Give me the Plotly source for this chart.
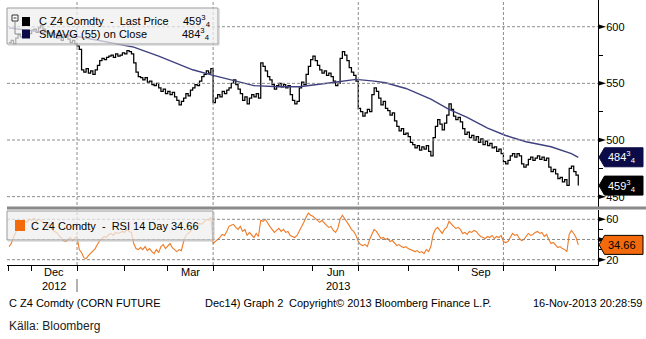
from fractions import Fraction

import pandas as pd
import plotly.graph_objects as go

# ---------------------------------------------------------------- canvas
W, H = 646, 339
ML, MR, MT, MB = 7, 48, 0, 74
PW, PH = W - ML - MR, H - MT - MB


def px_x(px):
    return (px - ML) / PW


def px_y(py):
    return (H - MB - py) / PH


FONT = "Liberation Sans, Arial, sans-serif"

# ---------------------------------------------------------------- data
# CBOT trading days, 16-Nov-2012 .. 15-Nov-2013 (exchange holidays removed)
holidays = ["2012-11-22", "2012-12-25", "2013-01-01", "2013-01-21", "2013-02-18",
            "2013-03-29", "2013-05-27", "2013-07-04", "2013-09-02"]
dates = pd.bdate_range("2012-11-16", "2013-11-15")
dates = dates[~dates.isin(pd.to_datetime(holidays))]

# C Z4 Comdty (Dec14 corn), last price, US cents/bu
close = [
    586, 588, 585, 590, 593, 591, 594, 592, 596, 594,
    597, 598, 595, 599, 601, 598, 596, 594, 592, 595,
    593, 590, 591, 588, 591, 593, 589, 586, 588, 585,
    583, 580, 562, 560, 563, 559, 561, 558, 562, 566,
    570, 572, 571, 573, 574, 575, 573, 576, 574, 575,
    577, 576, 579, 578, 576, 568, 560, 556, 555, 553,
    555, 551, 552, 549, 548, 550, 546, 543, 545, 541,
    543, 540, 542, 538, 535, 531, 534, 537, 541, 539,
    544, 546, 549, 548, 552, 556, 558, 561, 559, 563,
    533, 537, 540, 538, 543, 541, 544, 546, 550, 553,
    549, 545, 541, 535, 538, 532, 537, 540, 538, 541,
    537, 568, 565, 561, 556, 553, 549, 545, 548, 550,
    547, 549, 546, 548, 540, 535, 532, 534, 546, 551,
    549, 558, 565, 571, 574, 570, 566, 562, 559, 561,
    557, 559, 556, 552, 548, 550, 572, 578, 575, 570,
    564, 560, 557, 552, 528, 525, 521, 524, 527, 525,
    540, 546, 543, 537, 531, 534, 528, 526, 522, 524,
    517, 512, 508, 510, 505, 506, 503, 498, 496, 493,
    495, 491, 494, 492, 495, 490, 486, 502, 512, 518,
    514, 509, 515, 522, 532, 527, 521, 518, 520, 516,
    510, 505, 507, 502, 504, 500, 503, 498, 501, 496,
    499, 495, 497, 493, 494, 490, 492, 488, 481, 479,
    482, 486, 488, 485, 488, 486, 479, 476, 478, 483,
    485, 482, 484, 486, 483, 485, 482, 484, 476, 472,
    474, 470, 466, 467, 463, 465, 460, 475, 477, 472,
    469, 459.75,
]

# RSI 14 day
rsi = [
    33, 36, 42, 47, 52, 50, 55, 58, 57, 60,
    59, 61, 58, 60, 59, 57, 54, 52, 55, 50,
    48, 47, 44, 41, 39, 38, 40, 42, 39, 41,
    43, 30, 27, 22, 21, 24, 26, 29, 31, 35,
    39, 41, 43, 42, 45, 46, 44, 47, 46, 47,
    48, 47, 50, 48, 47, 36, 31, 30, 32, 30,
    33, 29, 31, 28, 26, 30, 27, 33, 35, 31,
    34, 36, 32, 30, 28, 30, 29, 38, 44, 46,
    48, 52, 54, 52, 56, 55, 58, 60, 59, 62,
    36, 38, 40, 42, 45, 44, 48, 53, 54, 55,
    52, 50, 53, 48, 50, 44, 47, 44, 42, 46,
    43, 59, 58, 60, 56, 53, 50, 47, 49, 51,
    48, 50, 47, 48, 44, 43, 42, 44, 48, 52,
    57, 62, 66, 64, 63, 61, 59, 57, 59, 56,
    54, 52, 53, 49, 47, 51, 60, 64, 61, 57,
    54, 50, 48, 44, 38, 35, 34, 35, 33, 40,
    46, 50, 48, 44, 41, 42, 40, 41, 38, 39,
    36, 34, 35, 33, 32, 33, 31, 30, 29, 28,
    29, 27, 28, 26, 30, 28, 33, 45, 50, 52,
    49, 46, 50, 52, 58, 55, 53, 51, 52, 50,
    46, 47, 45, 48, 47, 49, 48, 45, 43, 42,
    41, 43, 42, 44, 41, 43, 42, 44, 38, 37,
    38, 42, 46, 44, 45, 41, 39, 40, 43, 46,
    44, 45, 47, 48, 46, 47, 43, 45, 40, 36,
    37, 34, 32, 33, 31, 30, 28, 45, 49, 46,
    42, 34.66,
]

# SMAVG (55) on Close
sma_dates = ["2012-11-16", "2012-12-11", "2013-01-03", "2013-01-18", "2013-02-07",
             "2013-02-25", "2013-03-18", "2013-04-01", "2013-04-15", "2013-04-25",
             "2013-05-10", "2013-05-23", "2013-06-13", "2013-06-28", "2013-07-11",
             "2013-07-18", "2013-07-31", "2013-08-15", "2013-08-27", "2013-09-09",
             "2013-09-20", "2013-10-02", "2013-10-15", "2013-10-30", "2013-11-12",
             "2013-11-15"]
sma = [599, 595, 591, 587, 582, 574, 562, 557, 552, 548,
       547, 547, 550.5, 553.5, 552, 550.5, 545.5, 536, 527, 520,
       510.5, 504, 498.5, 494, 488, 484.75]

price_ticks = [450, 500, 550, 600]
rsi_ticks = [20, 40, 60]
rsi_tick_text = ["20", "", "60"]          # 40 sits under the RSI badge
month_labels = {"2012-12": "Dec", "2013-03": "Mar", "2013-06": "Jun", "2013-09": "Sep"}

assert len(close) == len(dates) == len(rsi)

C_SMA, C_SMA_BADGE = "#404080", "#0b0b48"
C_RSI, C_RSI_BADGE = "#f07a26", "#f26a0c"
C_GRID = "#8c8c8c"


def fmt_frac(v):
    whole = int(v)
    fr = Fraction(v - whole).limit_denominator(8)
    if fr == 0:
        return str(whole)
    return f"{whole}<sup>{fr.numerator}</sup><sub>{fr.denominator}</sub>"


# month boundaries (first trading day of each month) and label centres
periods = dates.to_period("M")
month_starts = [dates[periods == p][0] for p in periods.unique()]
quarter_starts = [d for d in month_starts if d.month in (1, 4, 7, 10)]


def month_centre(p):
    days = dates[periods == pd.Period(p)]
    n = len(days)
    d = days[n // 2]
    return d if n % 2 == 0 else d + pd.Timedelta(hours=12)


x_lo, x_hi = pd.Timestamp("2012-11-15 03:00"), pd.Timestamp("2013-11-27 16:48")

# ---------------------------------------------------------------- traces
fig = go.Figure()
fig.add_trace(go.Scatter(x=dates, y=close, mode="lines", xaxis="x", yaxis="y",
                         line=dict(color="black", width=1.25, shape="hv"),
                         hoverinfo="skip", showlegend=False))
fig.add_trace(go.Scatter(x=pd.to_datetime(sma_dates), y=sma, mode="lines",
                         xaxis="x", yaxis="y",
                         line=dict(color=C_SMA, width=1.4),
                         hoverinfo="skip", showlegend=False))
fig.add_trace(go.Scatter(x=dates, y=rsi, mode="lines", xaxis="x", yaxis="y2",
                         line=dict(color=C_RSI, width=1.1),
                         hoverinfo="skip", showlegend=False))

# ---------------------------------------------------------------- axes
tickfont = dict(family=FONT, size=11, color="black")

fig.update_layout(
    width=W, height=H,
    margin=dict(l=ML, r=MR, t=MT, b=MB),
    paper_bgcolor="white", plot_bgcolor="white",
    showlegend=False,
    xaxis=dict(
        type="date", anchor="y2",
        range=[x_lo, x_hi],
        rangebreaks=[dict(bounds=["sat", "mon"]), dict(values=holidays)],
        tickmode="array", tickvals=month_starts,
        ticks="outside", ticklen=5, tickcolor="black", tickwidth=1,
        showticklabels=False, showgrid=False,
        showline=True, linecolor="black", linewidth=1, zeroline=False,
    ),
    yaxis=dict(
        domain=[px_y(206.5), 1], range=[441.3, 623.6], anchor="x", side="right",
        tickmode="array", tickvals=price_ticks, ticktext=[str(v) for v in price_ticks],
        ticks="outside", ticklen=5, tickcolor="rgba(0,0,0,0)",
        minor=dict(ticks="outside", ticklen=4, tickcolor="black", dtick=50, tick0=475),
        tickfont=tickfont, showgrid=False,
        showline=True, linecolor="black", linewidth=1, zeroline=False,
    ),
    yaxis2=dict(
        domain=[0, px_y(209.5)], range=[14.75, 69.7], anchor="x", side="right",
        tickmode="array", tickvals=rsi_ticks, ticktext=rsi_tick_text,
        ticks="outside", ticklen=5, tickcolor="rgba(0,0,0,0)",
        minor=dict(ticks="outside", ticklen=4, tickcolor="black", dtick=20, tick0=30),
        tickfont=tickfont, showgrid=False,
        showline=True, linecolor="black", linewidth=1, zeroline=False,
    ),
)

# ---------------------------------------------------------------- shapes
shapes = []

# dotted grid: price / RSI levels and quarter boundaries
grid_line = dict(color=C_GRID, width=1, dash="3px,2px")
for yref, vals in (("y", price_ticks), ("y2", rsi_ticks)):
    for v in vals:
        shapes.append(dict(type="line", xref="paper", yref=yref, layer="above",
                           x0=0, x1=1, y0=v, y1=v, line=grid_line))
for d in quarter_starts:
    shapes.append(dict(type="line", xref="x", yref="paper", layer="above",
                       x0=d, x1=d, y0=0, y1=1, line=grid_line))


def rect_px(x0, y0, x1, y1, fill, line_color=None, line_width=0):
    line = dict(width=line_width, color=line_color or fill)
    shapes.append(dict(type="rect", xref="paper", yref="paper", layer="above",
                       x0=px_x(x0), x1=px_x(x1), y0=px_y(y1), y1=px_y(y0),
                       fillcolor=fill, line=line))


def line_px(x0, y0, x1, y1, color, width=1):
    shapes.append(dict(type="line", xref="paper", yref="paper", layer="above",
                       x0=px_x(x0), x1=px_x(x1), y0=px_y(y0), y1=px_y(y1),
                       line=dict(color=color, width=width)))


# separator bar between the two panels
rect_px(ML, 206.5, W, 209.5, "#8a8a8a")

# arrow-shaped major ticks on the right axis
for yref, vals in (("y", price_ticks), ("y2", rsi_ticks)):
    for v in vals:
        shapes.append(dict(type="path", xref="paper", yref=yref, layer="above",
                           xsizemode="pixel", ysizemode="pixel", xanchor=1, yanchor=v,
                           path="M 0 2.5 L 8 0 L 0 -2.5 Z",
                           fillcolor="black", line=dict(width=0)))

# last-value badges on the right axis
badge_path = "M 1 0 L 6.5 9.5 L 45 9.5 L 45 -9.5 L 6.5 -9.5 Z"
for yref, v, fill, border in (("y", sma[-1], C_SMA_BADGE, C_SMA_BADGE),
                              ("y", close[-1], "black", "black"),
                              ("y2", rsi[-1], C_RSI_BADGE, "black")):
    shapes.append(dict(type="path", xref="paper", yref=yref, layer="above",
                       xsizemode="pixel", ysizemode="pixel", xanchor=1, yanchor=v,
                       path=badge_path, fillcolor=fill, line=dict(color=border, width=1)))

# price legend panel
rect_px(7, 8, 218, 44, "rgba(238,238,238,0.72)", "#9c9c9c", 1)
line_px(8, 45, 219, 45, "#c8c8c8")
line_px(219, 9, 219, 45, "#c8c8c8")
rect_px(12, 15, 18, 21, "white", "#333333", 1)
line_px(13.5, 18, 16.5, 18, "#333333")
line_px(15, 21, 15, 34, "#8a8a8a")
line_px(15, 34, 21, 34, "#8a8a8a")
rect_px(22, 17, 30, 26, "black")
rect_px(22, 29.5, 30, 38.5, C_SMA_BADGE)

# RSI legend panel
rect_px(7, 211, 213, 240, "rgba(238,238,238,0.72)", "#9c9c9c", 1)
line_px(8, 241, 214, 241, "#c8c8c8")
line_px(214, 212, 214, 241, "#c8c8c8")
rect_px(15, 220, 25, 231, C_RSI_BADGE)

# year divider under the month labels (at the first 2013 boundary)
line_px(77, 279, 77, 292, "#666666")

fig.update_layout(shapes=shapes)

# ---------------------------------------------------------------- text
ann = []


def text_px(x, y, s, anchor="left", size=11, color="black"):
    ann.append(dict(xref="paper", yref="paper", x=px_x(x), y=px_y(y), text=s,
                    xanchor=anchor, yanchor="middle", showarrow=False,
                    font=dict(family=FONT, size=size, color=color)))


nb = "\u00a0"
text_px(37, 21.5, f"C Z4 Comdty{nb}{nb}-{nb}{nb}Last Price")
text_px(213, 21.5, fmt_frac(close[-1]), "right")
text_px(37, 34, "SMAVG (55) on Close")
text_px(212, 34, fmt_frac(sma[-1]), "right")
text_px(29, 226, f"C Z4 Comdty{nb}{nb}-{nb}{nb}RSI 14 Day {rsi[-1]:.2f}")

# badge labels
for yref, v, s, color in (("y", sma[-1], fmt_frac(sma[-1]), "white"),
                          ("y", close[-1], fmt_frac(close[-1]), "white"),
                          ("y2", rsi[-1], f"{rsi[-1]:.2f}", "black")):
    ann.append(dict(xref="paper", yref=yref, x=1, y=v, xshift=8, text=s,
                    xanchor="left", yanchor="middle", showarrow=False,
                    font=dict(family=FONT, size=11, color=color)))

# month and year labels
for p, lab in month_labels.items():
    ann.append(dict(xref="x", yref="paper", x=month_centre(p), y=px_y(271.5), text=lab,
                    xanchor="center", yanchor="middle", showarrow=False,
                    font=dict(family=FONT, size=11, color="black")))
ann.append(dict(xref="x", yref="paper", x=month_centre("2012-12"), y=px_y(285.5),
                text="2012", xanchor="center", yanchor="middle", showarrow=False,
                font=dict(family=FONT, size=11, color="black")))
text_px(338, 285.5, "2013", "center")

# footer
text_px(7, 303, "C Z4 Comdty (CORN FUTURE")
text_px(203, 303, "Dec14) Graph 2")
text_px(287, 303, "Copyright\u00a9 2013 Bloomberg Finance L.P.")
text_px(644, 303, "16-Nov-2013 20:28:59", "right")
text_px(7, 326, "Källa: Bloomberg", size=12, color="#222222")

fig.update_layout(annotations=ann)

fig.write_html("out.html")
